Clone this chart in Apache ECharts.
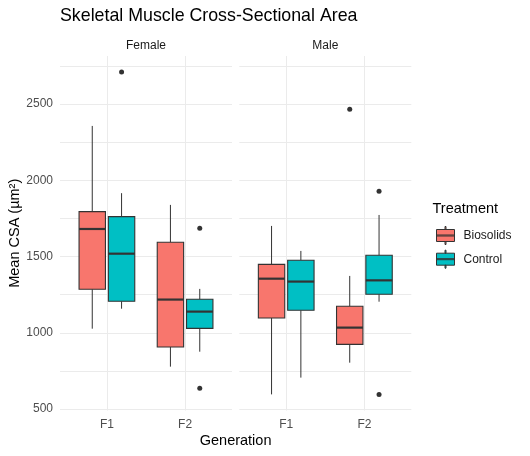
<!DOCTYPE html>
<html><head><meta charset="utf-8">
<script src="https://cdn.jsdelivr.net/npm/echarts@6/dist/echarts.min.js"></script>
<style>html,body{margin:0;padding:0;background:#fff}#c{width:530px;height:456px}</style>
</head><body><div id="c"></div>
<script>
const facets = ['Female', 'Male'];
const generations = ['F1', 'F2'];
const treatments = ['Biosolids', 'Control'];
const treatmentColors = ['#F8766D', '#00BFC4'];
// box stats per generation: [lower whisker, Q1, median, Q3, upper whisker]
const femaleBiosolids = [[1027, 1286, 1681, 1795, 2357], [778, 907, 1218, 1594, 1839]];
const femaleControl   = [[1158, 1207, 1519, 1762, 1916], [876, 1029, 1139, 1220, 1288]];
const maleBiosolids   = [[596, 1097, 1355, 1449, 1701], [804, 924, 1034, 1174, 1373]];
const maleControl     = [[706, 1148, 1336, 1476, 1537], [1204, 1253, 1344, 1509, 1773]];
// outliers: [generation index, value]
const femaleBiosolidsOut = [];
const femaleControlOut   = [[0, 2710], [1, 1686], [1, 636]];
const maleBiosolidsOut   = [[1, 2467]];
const maleControlOut     = [[1, 1929], [1, 596]];
const yMajorTicks = [500, 1000, 1500, 2000, 2500];
const yMinorTicks = [750, 1250, 1750, 2250, 2750];

const boxes = [[femaleBiosolids, femaleControl], [maleBiosolids, maleControl]];
const outs = [[femaleBiosolidsOut, femaleControlOut], [maleBiosolidsOut, maleControlOut]];

// y range as ggplot: data range expanded by 5%
let all = [];
boxes.forEach(f => f.forEach(t => t.forEach(b => all = all.concat(b))));
outs.forEach(f => f.forEach(t => t.forEach(o => all.push(o[1]))));
const lo = Math.min(...all), hi = Math.max(...all);
const yMin = lo - 0.05 * (hi - lo), yMax = hi + 0.05 * (hi - lo);

const FONT = 'Liberation Sans, Arial, sans-serif';
const dodge = 0.375, halfW = 0.16875;
const panels = [{left: 60, width: 172}, {left: 239.3, width: 172}];
const TOP = 56, HEIGHT = 354.5;

const grid = panels.map(p => ({left: p.left, width: p.width, top: TOP, height: HEIGHT, containLabel: false, outerBoundsMode: 'none'}));
const xAxis = panels.map((p, f) => ({
  type: 'value', gridIndex: f, min: 0.4, max: 2.6,
  axisLine: {show: false},
  axisTick: {show: false, customValues: generations.map((g, i) => i + 1)},
  axisLabel: {customValues: generations.map((g, i) => i + 1), formatter: v => generations[Math.round(v) - 1],
    color: '#4D4D4D', fontSize: 12, fontFamily: FONT, margin: 8},
  splitLine: {show: true, lineStyle: {color: '#EBEBEB', width: 1}}
}));
const yAxis = [];
panels.forEach((p, f) => {
  yAxis.push({
    type: 'value', gridIndex: f, min: yMin, max: yMax,
    axisLine: {show: false},
    axisTick: {show: false, customValues: yMajorTicks},
    axisLabel: {show: f === 0, customValues: yMajorTicks, formatter: v => String(v),
      color: '#4D4D4D', fontSize: 12, fontFamily: FONT, margin: 7},
    splitLine: {show: true, lineStyle: {color: '#EBEBEB', width: 1}},
    name: f === 0 ? 'Mean CSA (µm²)' : '', nameLocation: 'middle', nameGap: 34,
    nameTextStyle: {color: '#000', fontSize: 14.5, fontFamily: FONT}
  });
  yAxis.push({
    type: 'value', gridIndex: f, min: yMin, max: yMax,
    axisLine: {show: false},
    axisTick: {show: false, customValues: yMinorTicks},
    axisLabel: {show: false},
    splitLine: {show: true, lineStyle: {color: '#EBEBEB', width: 1}}
  });
});

const series = [];
facets.forEach((fname, f) => {
  treatments.forEach((tname, t) => {
    const off = (t - 0.5) * dodge;
    const color = treatmentColors[t];
    series.push({
      type: 'custom', name: tname, xAxisIndex: f, yAxisIndex: f * 2,
      data: boxes[f][t].map((b, i) => [i + 1].concat(b)),
      encode: {x: 0, y: [1, 2, 3, 4, 5]},
      renderItem: function (params, api) {
        const c = api.value(0) + off;
        const pMin = api.coord([c, api.value(1)]);
        const pQ1 = api.coord([c, api.value(2)]);
        const pMed = api.coord([c, api.value(3)]);
        const pQ3 = api.coord([c, api.value(4)]);
        const pMax = api.coord([c, api.value(5)]);
        const l = api.coord([c - halfW, api.value(3)])[0];
        const r = api.coord([c + halfW, api.value(3)])[0];
        const cx = pMed[0];
        const ln = '#333333';
        return {type: 'group', children: [
          {type: 'line', shape: {x1: cx, y1: pMax[1], x2: cx, y2: pQ3[1]}, style: {stroke: ln, lineWidth: 1}},
          {type: 'line', shape: {x1: cx, y1: pQ1[1], x2: cx, y2: pMin[1]}, style: {stroke: ln, lineWidth: 1}},
          {type: 'rect', shape: {x: l, y: pQ3[1], width: r - l, height: pQ1[1] - pQ3[1]}, style: {fill: color, stroke: ln, lineWidth: 1.1}},
          {type: 'line', shape: {x1: l, y1: pMed[1], x2: r, y2: pMed[1]}, style: {stroke: ln, lineWidth: 2.2}}
        ]};
      },
      itemStyle: {color: color, borderColor: '#333', borderWidth: 1},
      z: 3
    });
    if (outs[f][t].length) {
      series.push({
        type: 'scatter', name: tname + ' outliers', xAxisIndex: f, yAxisIndex: f * 2,
        data: outs[f][t].map(o => [o[0] + 1 + off, o[1]]),
        symbol: 'circle', symbolSize: 5,
        itemStyle: {color: '#333333', opacity: 1}, z: 4
      });
    }
  });
});

const icon = 'path://M8.5,0H9.5V3H8.5Z M0,3H18V15H0Z M8.5,15H9.5V18H8.5Z M0,8.5H18V9.5H0Z';

const option = {
  animation: false,
  backgroundColor: '#ffffff',
  grid, xAxis, yAxis, series,
  legend: {
    orient: 'vertical', left: 436, top: 226, padding: 0,
    itemWidth: 18, itemHeight: 18, itemGap: 4.7,
    textStyle: {color: '#1A1A1A', fontSize: 12, fontFamily: FONT, padding: [0, 0, 0, 4]},
    data: treatments.map((t, i) => ({name: t, icon: icon,
      itemStyle: {color: treatmentColors[i], borderColor: '#333333', borderWidth: 1}}))
  },
  graphic: [
    {type: 'text', x: 60, y: 16, style: {text: 'Skeletal Muscle Cross-Sectional Area', fill: '#000', font: '17.8px ' + FONT, textVerticalAlign: 'middle'}},
    {type: 'text', x: 60 + 86, y: 45.5, style: {text: facets[0], fill: '#1A1A1A', font: '12px ' + FONT, textAlign: 'center', textVerticalAlign: 'middle'}},
    {type: 'text', x: 239.3 + 86, y: 45.5, style: {text: facets[1], fill: '#1A1A1A', font: '12px ' + FONT, textAlign: 'center', textVerticalAlign: 'middle'}},
    {type: 'text', x: 235.6, y: 440.5, style: {text: 'Generation', fill: '#000', font: '14.5px ' + FONT, textAlign: 'center', textVerticalAlign: 'middle'}},
    {type: 'text', x: 432.5, y: 208.5, style: {text: 'Treatment', fill: '#000', font: '14.5px ' + FONT, textVerticalAlign: 'middle'}}
  ]
};
const chart = echarts.init(document.getElementById('c'), null, {renderer: 'canvas'});
chart.setOption(option);
</script>
</body></html>
